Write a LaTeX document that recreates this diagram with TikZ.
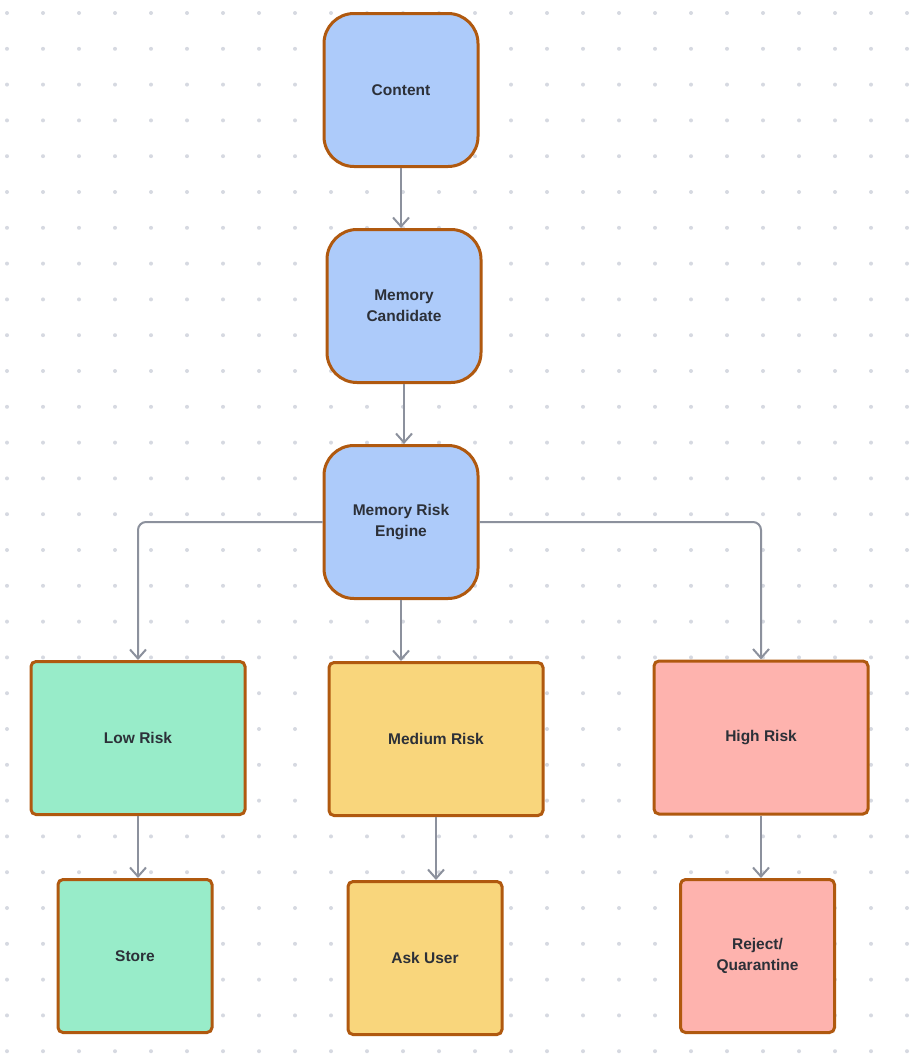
\documentclass[tikz,border=0pt]{standalone}
\usepackage{fontspec}
\setmainfont{Liberation Sans}
\usetikzlibrary{arrows.meta}

\definecolor{rimbrown}{HTML}{B0590F}
\definecolor{arrowgray}{HTML}{8C919D}
\definecolor{dotgray}{HTML}{D6D9E1}
\definecolor{textgray}{HTML}{2C3038}
\definecolor{blueish}{HTML}{ADCBFA}
\definecolor{greenish}{HTML}{98ECC9}
\definecolor{yellowish}{HTML}{F9D67C}
\definecolor{pinkish}{HTML}{FEB3AE}

\begin{document}
\begin{tikzpicture}[x=1pt,y=-1pt,
    box/.style={draw=rimbrown, line width=3pt, align=center,
        text=textgray, font=\bfseries\fontsize{15.5}{21}\selectfont},
    roundbox/.style={box, fill=blueish, rounded corners=30pt,
        minimum width=154pt, minimum height=153pt},
    riskbox/.style={box, rounded corners=5pt,
        minimum width=214pt, minimum height=153pt},
    endbox/.style={box, rounded corners=5pt,
        minimum width=154pt, minimum height=153pt},
    conn/.style={draw=arrowgray, line width=2pt, rounded corners=8pt,
        -{Straight Barb[length=9pt,width=16pt,line width=2pt]}}]

    % background with dots
    \fill[white] (0,0) rectangle (912,1060);
    \useasboundingbox (0,0) rectangle (912,1060);
    \foreach \i in {0,...,25}
        \foreach \j in {0,...,29}
            \fill[dotgray] (7+36*\i,13+35.8*\j) circle (2);

    % top chain
    \node[roundbox] (content) at (401,90) {Content};
    \node[roundbox] (cand) at (404,306) {Memory\\Candidate};
    \node[roundbox] (engine) at (401,522) {Memory Risk\\Engine};

    % risk levels
    \node[riskbox, fill=greenish] (low) at (138,738) {Low Risk};
    \node[riskbox, fill=yellowish] (medium) at (436,739) {Medium Risk};
    \node[riskbox, fill=pinkish] (high) at (761,737.5) {High Risk};

    % actions
    \node[endbox, fill=greenish] (store) at (135,956) {Store};
    \node[endbox, fill=yellowish] (ask) at (425,958) {Ask User};
    \node[endbox, fill=pinkish] (reject) at (757.5,956) {Reject/\\Quarantine};

    \draw[conn] (content.south) -- (content.south |- cand.north);
    \draw[conn] (cand.south) -- (cand.south |- engine.north);
    \draw[conn] (engine.west) -| (low.north);
    \draw[conn] (engine.south) -- (engine.south |- medium.north);
    \draw[conn] (engine.east) -| (high.north);
    \draw[conn] (low.south) -- (low.south |- store.north);
    \draw[conn] (medium.south) -- (medium.south |- ask.north);
    \draw[conn] (high.south) -- (high.south |- reject.north);
\end{tikzpicture}
\end{document}
